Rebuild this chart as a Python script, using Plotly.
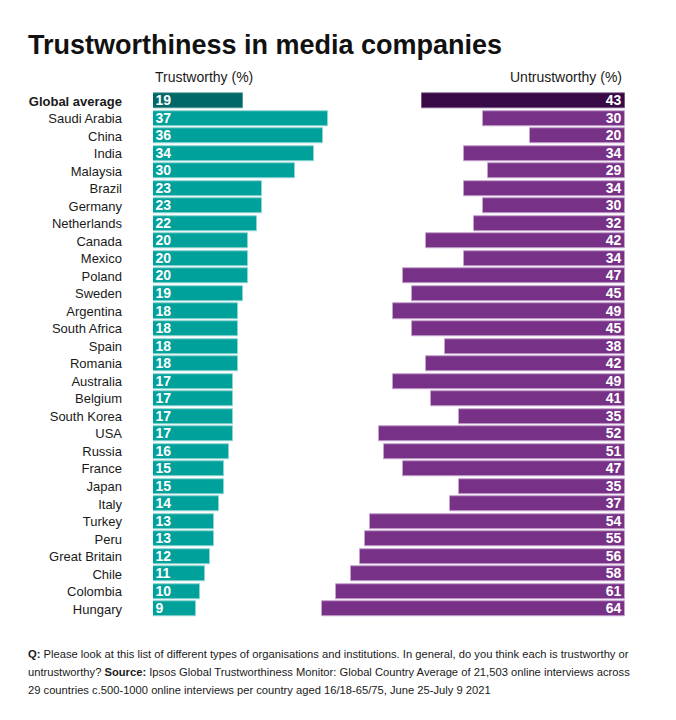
import plotly.graph_objects as go

countries = ["Global average", "Saudi Arabia", "China", "India", "Malaysia", "Brazil", "Germany",
             "Netherlands", "Canada", "Mexico", "Poland", "Sweden", "Argentina", "South Africa",
             "Spain", "Romania", "Australia", "Belgium", "South Korea", "USA", "Russia", "France",
             "Japan", "Italy", "Turkey", "Peru", "Great Britain", "Chile", "Colombia", "Hungary"]
trustworthy = [19, 37, 36, 34, 30, 23, 23, 22, 20, 20, 20, 19, 18, 18, 18, 18, 17, 17, 17, 17,
               16, 15, 15, 14, 13, 13, 12, 11, 10, 9]
untrustworthy = [43, 30, 20, 34, 29, 34, 30, 32, 42, 34, 47, 45, 49, 45, 38, 42, 49, 41, 35, 52,
                 51, 47, 35, 37, 54, 55, 56, 58, 61, 64]
tick_labels = ["<b>Global average</b>"] + countries[1:]
footnote_lines = [
    "<b>Q:</b> Please look at this list of different types of organisations and institutions. "
    "In general, do you think each is trustworthy or",
    "untrustworthy? <b>Source:</b> Ipsos Global Trustworthiness Monitor: Global Country Average "
    "of 21,503 online interviews across",
    "29 countries c.500-1000 online interviews per country aged 16/18-65/75, June 25-July 9 2021",
]

# page body has an 8px default margin -> figure coords = window coords - 8
OFF = 8
W, H = 676 - OFF, 720 - OFF
S = 4.73  # px per unit

TEAL, TEAL_DARK = "#00a19b", "#006866"
PURP, PURP_DARK = "#773187", "#370a47"
SANS = "Liberation Sans, Arial, Helvetica, sans-serif"

t_colors = [TEAL_DARK] + [TEAL] * (len(countries) - 1)
u_colors = [PURP_DARK] + [PURP] * (len(countries) - 1)
t_lines = ["#4f9a97"] + ["#8fd6d2"] * (len(countries) - 1)
u_lines = ["#7b5a86"] + ["#c4a3cc"] * (len(countries) - 1)

txtfont = dict(color="white", family=SANS, size=14, weight="bold")

fig = go.Figure()
fig.add_trace(go.Bar(
    y=countries, x=trustworthy, orientation="h", xaxis="x", yaxis="y",
    marker=dict(color=t_colors, line=dict(color=t_lines, width=1)),
    width=0.86, texttemplate="%{x}", textposition="inside", insidetextanchor="start",
    textangle=0, insidetextfont=txtfont, cliponaxis=False,
    hoverinfo="skip", showlegend=False,
))
fig.add_trace(go.Bar(
    y=countries, x=untrustworthy, orientation="h", xaxis="x2", yaxis="y",
    marker=dict(color=u_colors, line=dict(color=u_lines, width=1)),
    width=0.86, texttemplate="%{x}", textposition="inside", insidetextanchor="start",
    textangle=0, insidetextfont=txtfont, cliponaxis=False,
    hoverinfo="skip", showlegend=False,
))


def wx(px):
    return (px - OFF) / W


def wy(py):
    return 1 - (py - OFF) / H


x1a, x1b = 153, 345
x2a, x2b = 310, 625
top_px, row_px, n = 101, 17.52, len(countries)
y_top = top_px - row_px / 2
y_bot = y_top + row_px * n

fig.update_layout(
    width=W, height=H, margin=dict(l=0, r=0, t=0, b=0),
    paper_bgcolor="white", plot_bgcolor="rgba(0,0,0,0)", bargap=0,
    uniformtext=dict(minsize=14, mode="show"),
    xaxis=dict(domain=[wx(x1a), wx(x1b)], range=[0, (x1b - x1a) / S], visible=False,
               fixedrange=True),
    xaxis2=dict(domain=[wx(x2a), wx(x2b)], range=[(x2b - x2a) / S, 0], visible=False,
                fixedrange=True, anchor="y"),
    yaxis=dict(domain=[wy(y_bot), wy(y_top)], type="category",
               categoryorder="array", categoryarray=countries, autorange="reversed",
               tickvals=countries, ticktext=tick_labels, showgrid=False, zeroline=False,
               showline=False, ticks="", ticklabelstandoff=30,
               tickfont=dict(family=SANS, size=13, color="#1a1a1a"), anchor="x"),
    font=dict(family=SANS, color="#1a1a1a"),
)

fig.add_annotation(text="<b>Trustworthiness in media companies</b>", xref="paper", yref="paper",
                   x=wx(26), y=wy(45), xanchor="left", yanchor="middle", showarrow=False,
                   font=dict(family=SANS, size=27, color="#111111"))
fig.add_annotation(text="Trustworthy (%)", xref="paper", yref="paper",
                   x=wx(153), y=wy(77), xanchor="left", yanchor="middle", showarrow=False,
                   font=dict(family=SANS, size=14, color="#1a1a1a"))
fig.add_annotation(text="Untrustworthy (%)", xref="paper", yref="paper",
                   x=wx(624), y=wy(77), xanchor="right", yanchor="middle", showarrow=False,
                   font=dict(family=SANS, size=14, color="#1a1a1a"))

for i, line in enumerate(footnote_lines):
    fig.add_annotation(text=line, xref="paper", yref="paper", x=wx(26), y=wy(654 + 18 * i),
                       xanchor="left", yanchor="middle", align="left", showarrow=False,
                       font=dict(family=SANS, size=11.2, color="#1a1a1a"))

fig.write_html("out.html")
